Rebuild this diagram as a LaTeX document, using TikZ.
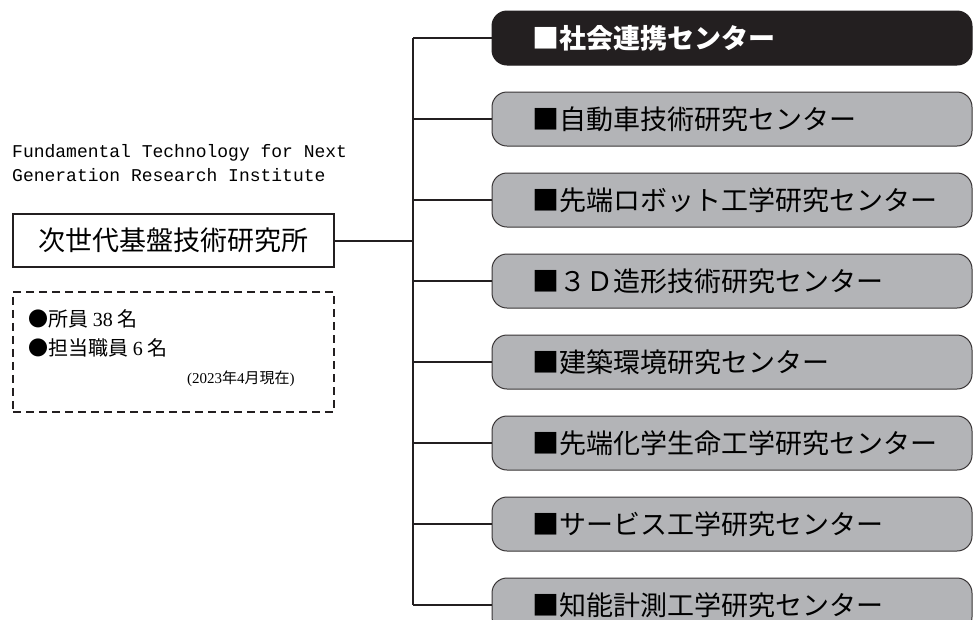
\documentclass[tikz,border=0pt]{standalone}
\usepackage{fontspec}
\usepackage{tikz}
\usetikzlibrary{positioning}
\newfontfamily\cjk{Noto Sans CJK JP}
\newfontfamily\engfont{Liberation Mono}
\newfontfamily\numfont{Liberation Serif}
\definecolor{boxgray}{HTML}{B3B4B7}
\definecolor{inkblack}{HTML}{231F20}
\newcommand\ctrtext[1]{\makebox[400pt][l]{#1}}

\begin{document}
\begin{tikzpicture}[x=1pt, y=-1pt, node distance = 26pt,
    center/.style={rectangle, rounded corners=15pt, draw=inkblack!90, line width=1pt,
      fill=boxgray, minimum width=480pt, minimum height=54pt, inner xsep=0pt,
      font=\cjk\fontsize{27}{27}\selectfont},
    link/.style={draw=inkblack, line width=2pt}]
      \useasboundingbox [fill=white] (0,0) rectangle (973,619);
      % Place nodes
      \node [anchor=north west, align=left, inner sep=0pt,
        font=\engfont\fontsize{18}{24}\selectfont] (eng) at (12,144)
        {Fundamental Technology for Next\\Generation Research Institute};
      \node [anchor=north west, rectangle, draw=inkblack, line width=2pt, minimum width=321pt,
        minimum height=53pt, font=\cjk\fontsize{27}{27}\selectfont] (inst) at (12,213) {次世代基盤技術研究所};
      \node [below=23pt of inst, rectangle, draw=inkblack, line width=1.6pt,
        dash pattern=on 8pt off 5pt, minimum width=321pt, minimum height=120pt] (note) {};
      \node [anchor=west, inner sep=0pt, font=\fontsize{20}{20}\selectfont] (staff) at ([shift={(16,28)}]note.north west)
        {\cjk ●所員 \numfont 38 \cjk 名};
      \node [anchor=west, inner sep=0pt, font=\fontsize{20}{20}\selectfont] (clerk) at ([shift={(16,57)}]note.north west)
        {\cjk ●担当職員 \numfont 6 \cjk 名};
      \node [anchor=east, inner sep=0pt, font=\numfont\fontsize{15}{15}\selectfont] (date) at ([shift={(-40,88)}]note.north east)
        {(2023{\cjk 年}4{\cjk 月現在})};
      \node [center, fill=inkblack, draw=inkblack, text=white, font=\cjk\bfseries\fontsize{27}{27}\selectfont] (c1) at (732,38)
        {\ctrtext{■社会連携センター}};
      \node [center, below=of c1] (c2) {\ctrtext{■自動車技術研究センター}};
      \node [center, below=of c2] (c3) {\ctrtext{■先端ロボット工学研究センター}};
      \node [center, below=of c3] (c4) {\ctrtext{■３Ｄ造形技術研究センター}};
      \node [center, below=of c4] (c5) {\ctrtext{■建築環境研究センター}};
      \node [center, below=of c5] (c6) {\ctrtext{■先端化学生命工学研究センター}};
      \node [center, below=of c6] (c7) {\ctrtext{■サービス工学研究センター}};
      \node [center, below=of c7] (c8) {\ctrtext{■知能計測工学研究センター}};
      \coordinate (trunk) at (413,0);
      % Draw edges
      \draw [link] (c1.west -| trunk) -- (c8.west -| trunk);
      \draw [link] (inst.east) -- (inst.east -| trunk);
      \draw [link] (c1.west -| trunk) -- (c1.west);
      \draw [link] (c2.west -| trunk) -- (c2.west);
      \draw [link] (c3.west -| trunk) -- (c3.west);
      \draw [link] (c4.west -| trunk) -- (c4.west);
      \draw [link] (c5.west -| trunk) -- (c5.west);
      \draw [link] (c6.west -| trunk) -- (c6.west);
      \draw [link] (c7.west -| trunk) -- (c7.west);
      \draw [link] (c8.west -| trunk) -- (c8.west);
\end{tikzpicture}
\end{document}
